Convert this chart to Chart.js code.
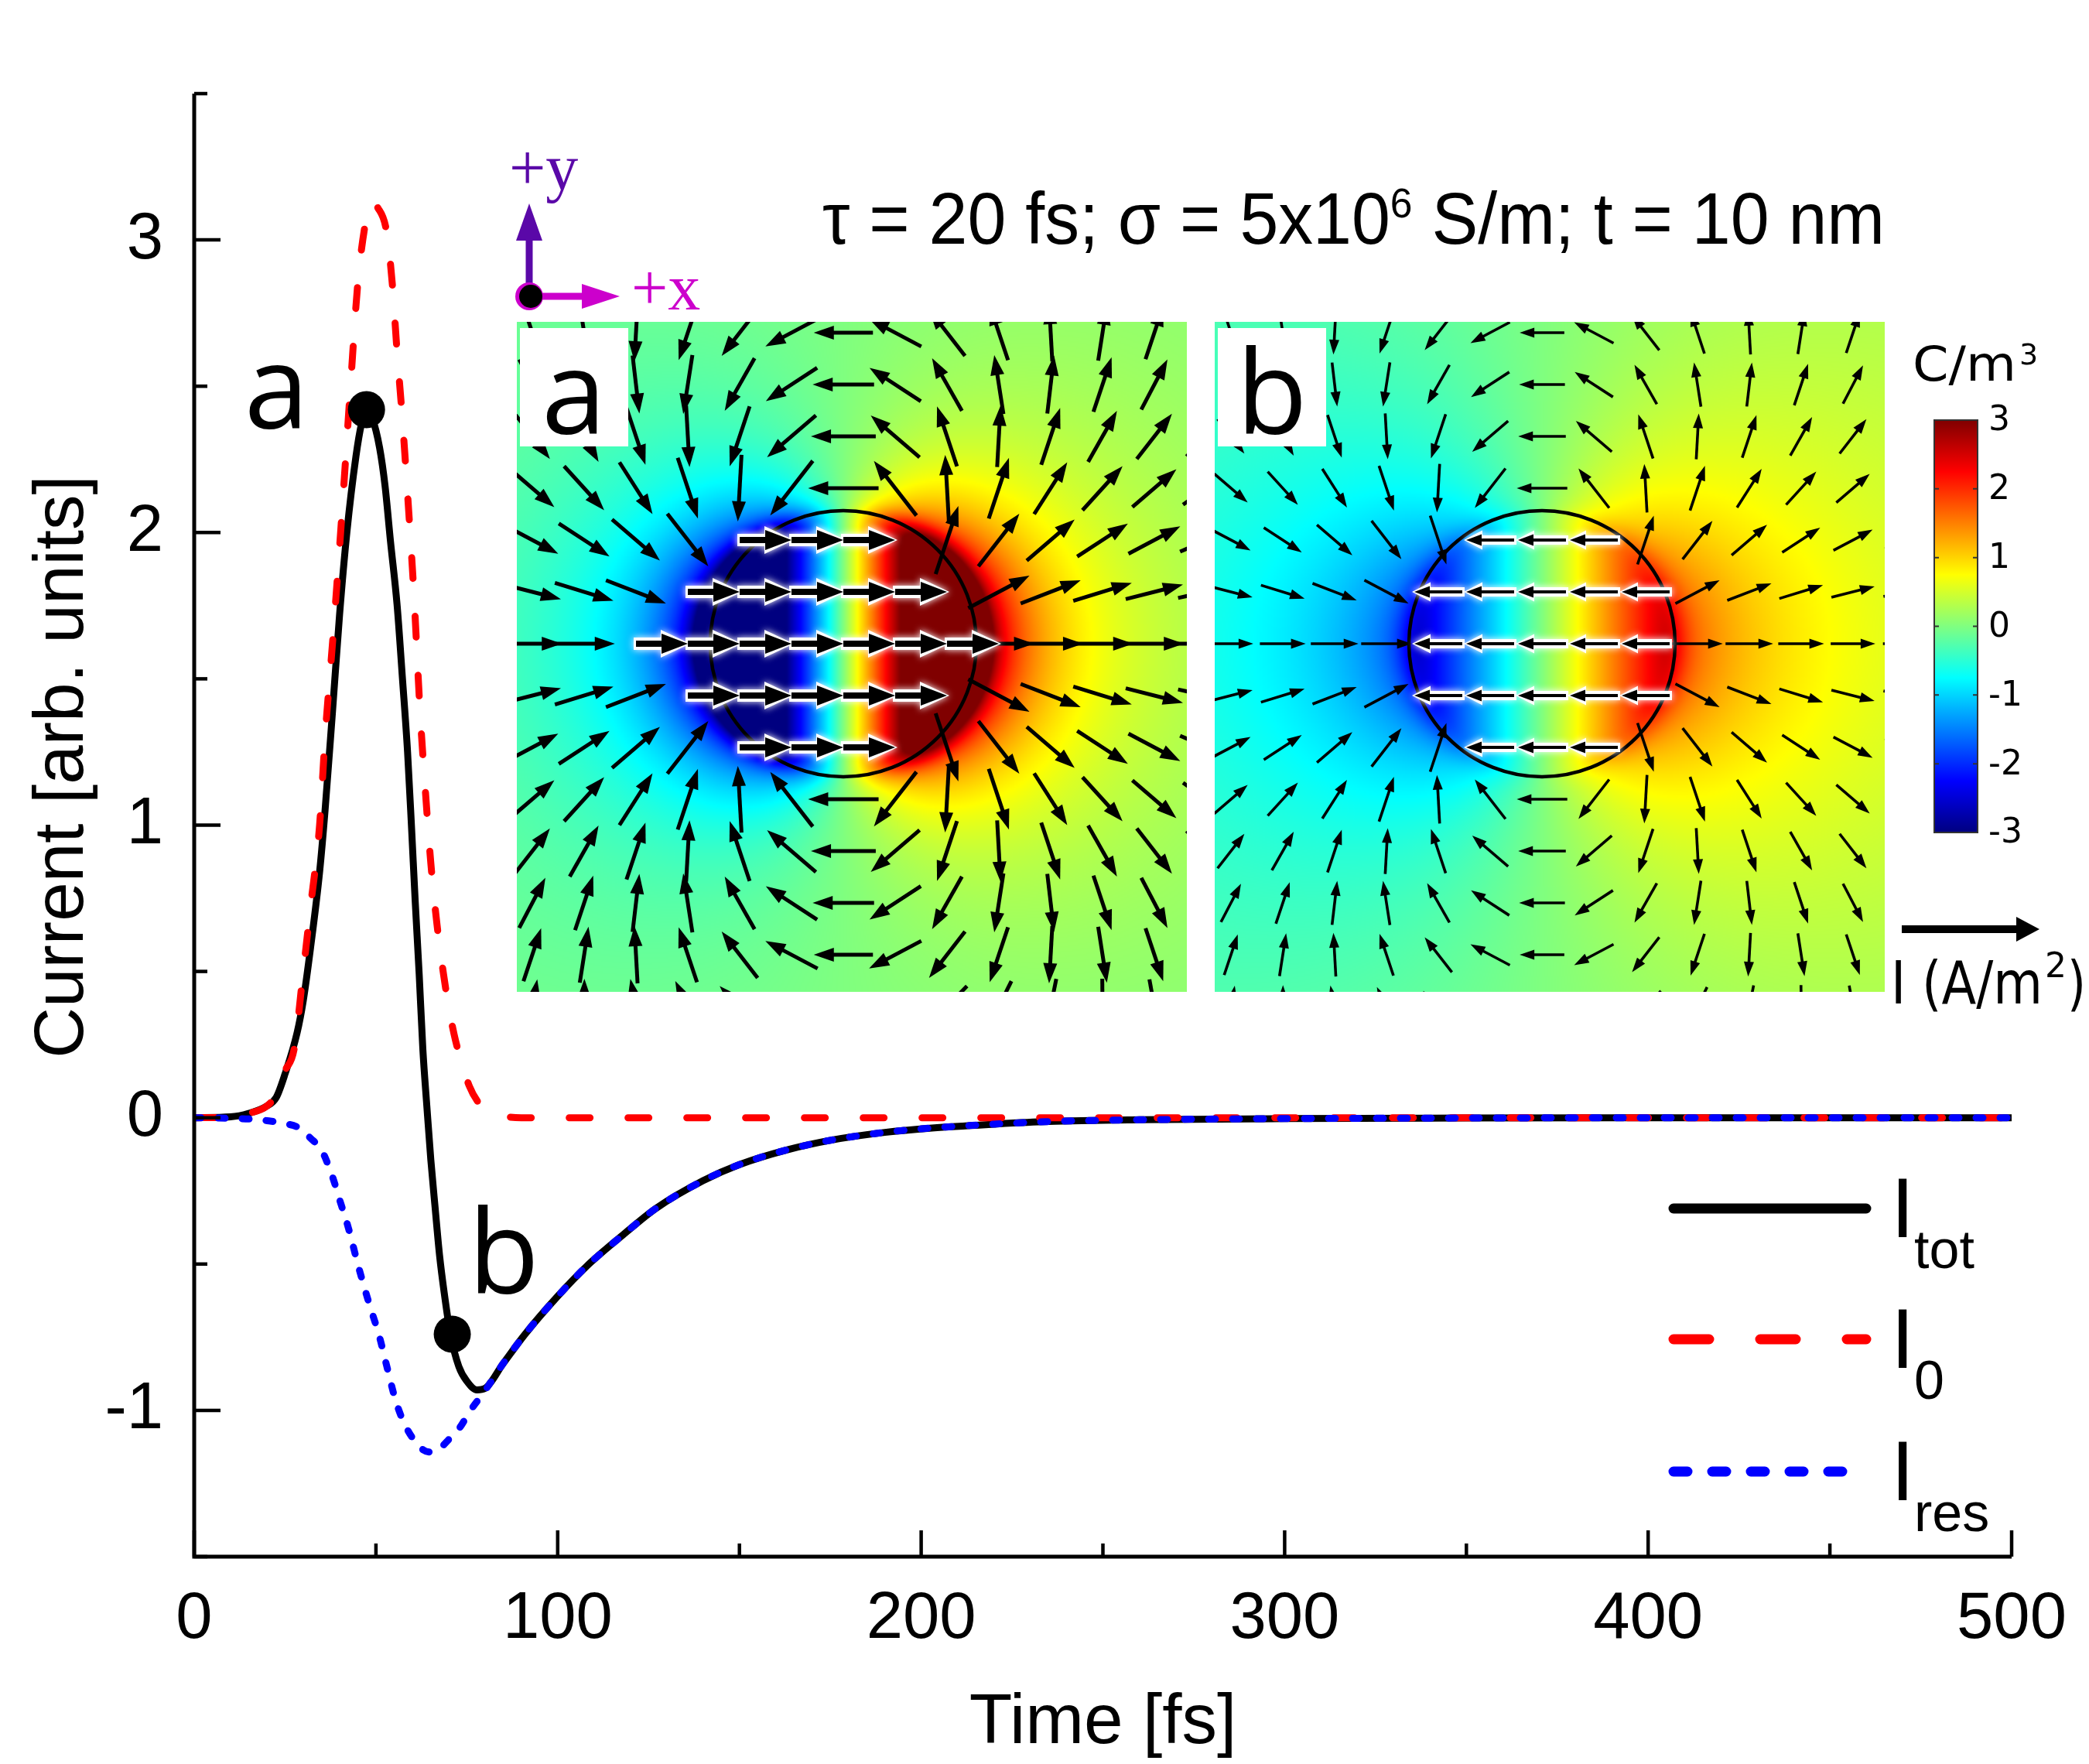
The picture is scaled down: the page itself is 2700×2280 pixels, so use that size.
<!DOCTYPE html>
<html>
<head>
<meta charset="utf-8">
<script src="https://cdn.jsdelivr.net/npm/chart.js@4.4.1/dist/chart.umd.min.js"></script>
<style>
  html, body { margin: 0; padding: 0; background: #fff; }
  canvas { display: block; }
</style>
</head>
<body>
<canvas id="current" width="2700" height="2280"></canvas>
<script>
// values: time [fs], current [arb. units]
const tTot = [0, 10, 15, 20, 22.6, 25, 28.3, 30, 32, 34.5, 36, 38, 40, 42, 44.5, 46, 47.4, 49, 51, 52.5,
              54, 55.8, 57.3, 58.7, 59.8, 60.8, 61.9, 62.9, 64, 65.1, 66.3, 67.5, 68.8, 70.5, 72.8, 75, 77.8,
              80, 85, 91, 100, 108, 118, 127, 140, 150, 163, 175, 190, 203, 220, 235, 260, 300, 350, 400, 450, 500];
const iTot = [0, 0.003, 0.015, 0.04, 0.07, 0.15, 0.29, 0.4, 0.58, 0.84, 1.05, 1.38, 1.72, 2.0, 2.26, 2.37, 2.42, 2.39, 2.29, 2.16,
              1.97, 1.755, 1.5, 1.25, 0.99, 0.74, 0.49, 0.235, 0.04, -0.144, -0.31, -0.47, -0.6, -0.74, -0.85, -0.9, -0.93,
              -0.925, -0.84, -0.74, -0.61, -0.507, -0.40, -0.31, -0.215, -0.16, -0.11, -0.077, -0.05, -0.035, -0.022, -0.013, -0.007, -0.003, -0.001, 0, 0, 0];

const t0 = [0, 10, 15, 20, 22.6, 25, 27.5, 30, 32, 34.5, 36, 38.1, 40, 41, 43, 45, 47, 48.6, 50.5, 52.9,
            54.5, 55.8, 57.2, 59.4, 60.4, 62.2, 63.7, 65.1, 66.8, 68.6, 70, 71.5, 73.5, 75.7, 78, 80, 84.2, 90, 150, 250, 350, 500];
const i0 = [0, 0.003, 0.015, 0.04, 0.08, 0.16, 0.235, 0.5, 0.72, 1.0, 1.3, 1.63, 1.95, 2.13, 2.5, 2.85, 3.05, 3.13, 3.11, 3.03,
            2.85, 2.62, 2.4, 2.0, 1.8, 1.375, 1.1, 0.87, 0.66, 0.49, 0.38, 0.285, 0.19, 0.108, 0.055, 0.03, 0.008, 0, 0, 0, 0, 0];

const tRes = [0, 10, 16, 20, 25, 28.9, 32, 35, 38, 40, 42.5, 45, 48, 51, 53, 55.5, 58, 60.7, 63, 65.3, 68, 70, 73, 76, 79.6,
              85, 91, 100, 108, 118, 127, 140, 150, 163, 175, 190, 203, 220, 235, 260, 300, 350, 400, 450, 500];
const iRes = [0, -0.002, -0.005, -0.01, -0.02, -0.035, -0.07, -0.11, -0.2, -0.28, -0.38, -0.5, -0.63, -0.75, -0.85, -0.97, -1.05, -1.105, -1.135, -1.143, -1.125, -1.1, -1.06, -1.0, -0.94,
              -0.84, -0.74, -0.61, -0.507, -0.40, -0.31, -0.215, -0.16, -0.11, -0.077, -0.05, -0.035, -0.022, -0.013, -0.007, -0.003, -0.001, 0, 0, 0];

const markT = [47.4, 71];
const markI = [2.42, -0.74];
const markNames = ['a', 'b'];
const markTextT = [13.8, 75.4];
const markTextI = [2.355, -0.6];

const xTicks = [0, 100, 200, 300, 400, 500];
const xMinor = [50, 150, 250, 350, 450];
const yTicks = [-1, 0, 1, 2, 3];
const yMinor = [-1.5, -0.5, 0.5, 1.5, 2.5, 3.5];
const cbTicks = [3, 2, 1, 0, -1, -2, -3];

const legendNames = ['tot', '0', 'res'];
const legendColors = ['#000000', '#ff0000', '#0000ff'];

const SANS = '"Liberation Sans", Arial, sans-serif';

function pts(xs, ys) {
    return xs.map(function(x, i) { return {x: x, y: ys[i]}; });
}

function line(label, xs, ys, color, dash, order) {
    return {
        label: label,
        data: pts(xs, ys),
        borderColor: color,
        borderWidth: 9,
        borderDash: dash,
        borderCapStyle: 'round',
        borderJoinStyle: 'round',
        pointRadius: 0,
        fill: false,
        cubicInterpolationMode: 'monotone',
        order: order
    };
}

// ---- inset drawing helpers ----
function jet(t) {
    const f = function(v) { return Math.max(0, Math.min(1, v)); };
    return [f(1.5 - Math.abs(4 * t - 3)), f(1.5 - Math.abs(4 * t - 2)), f(1.5 - Math.abs(4 * t - 1))];
}

const circR = 172;
const gridS = 67;
const panels = [
    {name: 'a', x: 668, y: 416, w: 866, h: 866, cx: 1090, cy: 832, kin: 7, aout: 3.6, nout: 2.5, inDir: 1, chains: true,
     out: {len0: 62, len1: 34, lw: 5, hl: 26, hw: 9}, inn: {len: 67, lw: 8, hl: 34, hw: 13}},
    {name: 'b', x: 1570, y: 416, w: 866, h: 866, cx: 1993, cy: 832, kin: 2.8, aout: 1.9, nout: 1.2, inDir: -1, chains: false,
     out: {len0: 50, len1: 18, lw: 3.6, hl: 19, hw: 6.5}, inn: {len: 62, lw: 4, hl: 20, hw: 7.5}}
];

function charge(p, dx, dy) {
    const r = Math.hypot(dx, dy) + 1e-6;
    const vin = p.kin * dx / circR;
    const vout = p.aout * (dx / r) * Math.pow(circR / r, p.nout);
    const w = 1 / (1 + Math.exp(-(r - circR) / (0.05 * circR)));
    return Math.max(-3, Math.min(3, (1 - w) * vin + w * vout));
}

function arrow(c, x, y, ux, uy, len, lw, hl, hw) {
    const x0 = x - ux * len / 2, y0 = y - uy * len / 2;
    const x1 = x + ux * len / 2, y1 = y + uy * len / 2;
    const bx = x1 - ux * hl, by = y1 - uy * hl;
    c.lineWidth = lw;
    c.beginPath(); c.moveTo(x0, y0); c.lineTo(bx + ux * 2, by + uy * 2); c.stroke();
    c.beginPath(); c.moveTo(x1, y1);
    c.lineTo(bx - uy * hw, by + ux * hw);
    c.lineTo(bx + uy * hw, by - ux * hw);
    c.closePath(); c.fill();
}

function drawPanel(c, p) {
    const N = 433;
    const off = document.createElement('canvas');
    off.width = N; off.height = N;
    const oc = off.getContext('2d');
    const img = oc.createImageData(N, N);
    for (let j = 0; j < N; j++) {
        for (let i = 0; i < N; i++) {
            const px = p.x + (i + 0.5) * p.w / N, py = p.y + (j + 0.5) * p.h / N;
            const v = charge(p, px - p.cx, py - p.cy);
            const rgb = jet((v + 3) / 6);
            const k = (j * N + i) * 4;
            img.data[k] = rgb[0] * 255; img.data[k + 1] = rgb[1] * 255; img.data[k + 2] = rgb[2] * 255; img.data[k + 3] = 255;
        }
    }
    oc.putImageData(img, 0, 0);
    c.save();
    c.imageSmoothingEnabled = true;
    c.drawImage(off, p.x, p.y, p.w, p.h);
    c.beginPath(); c.rect(p.x, p.y, p.w, p.h); c.clip();

    // particle outline
    c.strokeStyle = '#000'; c.lineWidth = 4.5;
    c.beginPath(); c.arc(p.cx, p.cy, circR, 0, Math.PI * 2); c.stroke();

    // inner (highlighted) arrows: chains of arrows along x
    const s = gridS;
    const inner = [];
    const used = {};
    if (p.chains) {
        for (let j = -2; j <= 2; j++) {
            for (let i = -(4 - Math.abs(j)); i <= 2 - Math.abs(j); i++) {
                inner.push([p.cx + i * s + s / 2, p.cy + j * s]);
                used[i + ',' + j] = true;
            }
        }
    }

    // current density arrows (dipole pattern outside)
    c.fillStyle = '#000'; c.strokeStyle = '#000'; c.lineCap = 'butt';
    for (let j = -7; j <= 7; j++) {
        for (let i = -7; i <= 7; i++) {
            const dx = i * s, dy = j * s;
            const gx = p.cx + dx, gy = p.cy + dy;
            if (gx < p.x - 40 || gx > p.x + p.w + 40 || gy < p.y - 40 || gy > p.y + p.h + 40) continue;
            const r = Math.hypot(dx, dy);
            if (r < circR * 1.02) {
                if (!p.chains) inner.push([gx, gy]);
                continue;
            }
            if (used[i + ',' + j]) continue;
            const cs = dx / r, sn = dy / r;
            let ex = 3 * cs * cs - 1, ey = 3 * cs * sn;
            const m = Math.hypot(ex, ey);
            ex /= m; ey /= m;
            const len = p.out.len0 + p.out.len1 * Math.min(1, circR / r);
            arrow(c, gx, gy, ex, ey, len, p.out.lw, p.out.hl, p.out.hw);
        }
    }
    inner.forEach(function(g) {
        c.save();
        c.fillStyle = '#fff'; c.strokeStyle = '#fff';
        c.shadowColor = '#fff'; c.shadowBlur = 10; c.lineJoin = 'round';
        arrow(c, g[0], g[1], p.inDir, 0, p.inn.len + 6, p.inn.lw + 8, p.inn.hl + 4, p.inn.hw + 5);
        c.restore();
    });
    inner.forEach(function(g) {
        arrow(c, g[0], g[1], p.inDir, 0, p.inn.len, p.inn.lw, p.inn.hl, p.inn.hw);
    });
    c.restore();

    // panel letter in a white box
    c.fillStyle = '#fff';
    c.fillRect(p.x + 4, 424, 140, 153);
    c.fillStyle = '#000';
    c.font = '150px "Open Sans"';
    c.textAlign = 'left'; c.textBaseline = 'alphabetic';
    c.fillText(p.name, p.name === 'a' ? p.x + 32 : p.x + 28, 561);
}

function fitText(c, text, x, y, width) {
    const w = c.measureText(text).width;
    c.save();
    c.translate(x, y);
    c.scale(width / w, 1);
    c.fillText(text, 0, 0);
    c.restore();
}

const decor = {
    id: 'decor',
    afterDraw: function(chart) {
        const c = chart.ctx;
        const xs = chart.scales.x, ys = chart.scales.y;
        const L = xs.left, R = xs.right, T = ys.top, B = ys.bottom;
        c.save();

        // axes with inward ticks
        c.strokeStyle = '#000'; c.lineWidth = 5; c.lineJoin = 'miter'; c.lineCap = 'butt';
        c.beginPath(); c.moveTo(L, T); c.lineTo(L, B); c.lineTo(R, B); c.stroke();
        c.lineWidth = 4.5;
        yTicks.forEach(function(v) { const y = ys.getPixelForValue(v); c.beginPath(); c.moveTo(L, y); c.lineTo(L + 34, y); c.stroke(); });
        yMinor.forEach(function(v) { const y = ys.getPixelForValue(v); c.beginPath(); c.moveTo(L, y); c.lineTo(L + 17, y); c.stroke(); });
        xTicks.forEach(function(v) { const x = xs.getPixelForValue(v); c.beginPath(); c.moveTo(x, B); c.lineTo(x, B - 34); c.stroke(); });
        xMinor.forEach(function(v) { const x = xs.getPixelForValue(v); c.beginPath(); c.moveTo(x, B); c.lineTo(x, B - 17); c.stroke(); });

        // axis titles
        c.fillStyle = '#000';
        c.font = '91px ' + SANS;
        c.textAlign = 'center'; c.textBaseline = 'alphabetic';
        c.fillText('Time [fs]', (L + R) / 2, 2253);
        c.save();
        c.translate(107, 991); c.rotate(-Math.PI / 2);
        c.fillText('Current [arb. units]', 0, 0);
        c.restore();

        // point labels
        c.font = '150px "Open Sans"';
        c.textAlign = 'left';
        markNames.forEach(function(n, i) {
            c.fillText(n, xs.getPixelForValue(markTextT[i]), ys.getPixelForValue(markTextI[i]));
        });

        // legend
        const lgY = [1562, 1731, 1902];
        const lgDash = [[], [46, 66], [18, 32]];
        const lgEnd = [2412, 2412, 2386];
        c.lineCap = 'round'; c.lineWidth = 13;
        lgY.forEach(function(y, i) {
            c.strokeStyle = legendColors[i];
            c.setLineDash(lgDash[i]);
            c.beginPath(); c.moveTo(2163, y); c.lineTo(lgEnd[i], y); c.stroke();
        });
        c.setLineDash([]);
        c.fillStyle = '#000';
        legendNames.forEach(function(n, i) {
            const base = lgY[i] + 37;
            c.font = '109px ' + SANS;
            c.fillText('I', 2444, base);
            c.font = '70px ' + SANS;
            c.fillText(n, 2474, base + 40);
        });

        // parameter line
        c.save();
        const parts = [['\u03C4 = 20 fs; \u03C3 = 5x10', 94, 0], ['6', 54, -34], [' S/m; t = 10 nm', 94, 0]];
        let w = 0;
        parts.forEach(function(p) { c.font = p[1] + 'px ' + SANS; w += c.measureText(p[0]).width; });
        c.translate(1063, 315);
        c.scale(1373 / w, 1);
        let x = 0;
        parts.forEach(function(p) { c.font = p[1] + 'px ' + SANS; c.fillText(p[0], x, p[2]); x += c.measureText(p[0]).width; });
        c.restore();

        // coordinate indicator
        c.strokeStyle = '#5a08a8'; c.fillStyle = '#5a08a8'; c.lineCap = 'butt';
        arrow(c, 684, 323, 0, -1, 120, 9, 48, 17);
        c.strokeStyle = '#cc00cc'; c.fillStyle = '#cc00cc';
        arrow(c, 742, 383, 1, 0, 118, 9, 49, 16);
        c.beginPath(); c.arc(684, 383, 18, 0, Math.PI * 2); c.fill();
        c.fillStyle = '#000';
        c.beginPath(); c.arc(686, 383, 15, 0, Math.PI * 2); c.fill();
        c.font = '84px "Liberation Serif", serif';
        c.fillStyle = '#5a08a8'; c.fillText('+y', 658, 245);
        c.fillStyle = '#cc00cc'; c.fillText('+x', 816, 400);

        // insets
        panels.forEach(function(p) { drawPanel(c, p); });

        // colour bar
        const cbx = 2500, cby = 543, cbw = 56, cbh = 533;
        const g = c.createLinearGradient(0, cby, 0, cby + cbh);
        for (let k = 0; k <= 24; k++) {
            const rgb = jet(1 - k / 24);
            g.addColorStop(k / 24, 'rgb(' + Math.round(rgb[0] * 255) + ',' + Math.round(rgb[1] * 255) + ',' + Math.round(rgb[2] * 255) + ')');
        }
        c.fillStyle = g; c.fillRect(cbx, cby, cbw, cbh);
        c.strokeStyle = '#333'; c.lineWidth = 2; c.strokeRect(cbx, cby, cbw, cbh);
        c.fillStyle = '#000';
        c.font = '44px "DejaVu Sans", sans-serif';
        c.textBaseline = 'middle';
        cbTicks.forEach(function(v) {
            const y = cby + (3 - v) / 6 * cbh;
            c.strokeStyle = '#333'; c.lineWidth = 2;
            c.beginPath(); c.moveTo(cbx, y); c.lineTo(cbx + 6, y); c.moveTo(cbx + cbw, y); c.lineTo(cbx + cbw - 6, y); c.stroke();
            c.fillText(String(v), 2570, y + 2);
        });
        c.textBaseline = 'alphabetic';
        c.font = '62px "DejaVu Sans", sans-serif';
        fitText(c, 'C/m', 2472, 492, 134);
        c.font = '38px "DejaVu Sans", sans-serif';
        c.fillText('3', 2610, 471);

        // current density scale arrow
        c.strokeStyle = '#000'; c.fillStyle = '#000';
        arrow(c, 2547, 1201, 1, 0, 178, 10, 30, 16);
        c.font = '76px "DejaVu Sans", sans-serif';
        fitText(c, 'I (A/m', 2444, 1297, 196);
        c.font = '44px "DejaVu Sans", sans-serif';
        c.fillText('2', 2643, 1263);
        c.font = '76px "DejaVu Sans", sans-serif';
        fitText(c, ')', 2672, 1297, 24);

        c.restore();
    }
};

const chart = new Chart(document.getElementById('current'), {
    type: 'line',
    data: {
        datasets: [
            line('I_tot', tTot, iTot, '#000000', [], 3),
            line('I_0', t0, i0, '#ff0000', [27, 49], 2),
            line('I_res', tRes, iRes, '#0000ff', [9, 22], 1),
            {
                label: 'marks',
                data: pts(markT, markI),
                showLine: false,
                pointRadius: 24,
                pointBackgroundColor: '#000',
                pointBorderWidth: 0,
                order: 0
            }
        ]
    },
    options: {
        responsive: false,
        animation: false,
        devicePixelRatio: 1,
        layout: {padding: {top: 121, right: 100, left: 0, bottom: 0}},
        plugins: {legend: {display: false}, tooltip: {enabled: false}},
        scales: {
            x: {
                type: 'linear', min: 0, max: 500,
                afterBuildTicks: function(s) { s.ticks = xTicks.map(function(v) { return {value: v}; }); },
                afterFit: function(s) { s.height = 268; s.paddingLeft = 0; s.paddingRight = 0; },
                grid: {display: false, drawTicks: false},
                border: {display: false},
                ticks: {font: {family: SANS, size: 85}, color: '#000', padding: 31, maxRotation: 0, autoSkip: false}
            },
            y: {
                type: 'linear', min: -1.5, max: 3.5,
                afterBuildTicks: function(s) { s.ticks = yTicks.map(function(v) { return {value: v}; }); },
                afterFit: function(s) { s.width = 251; s.paddingTop = 0; s.paddingBottom = 0; },
                grid: {display: false, drawTicks: false},
                border: {display: false},
                ticks: {font: {family: SANS, size: 85}, color: '#000', padding: 40, autoSkip: false}
            }
        }
    },
    plugins: [decor]
});
</script>
</body>
</html>
